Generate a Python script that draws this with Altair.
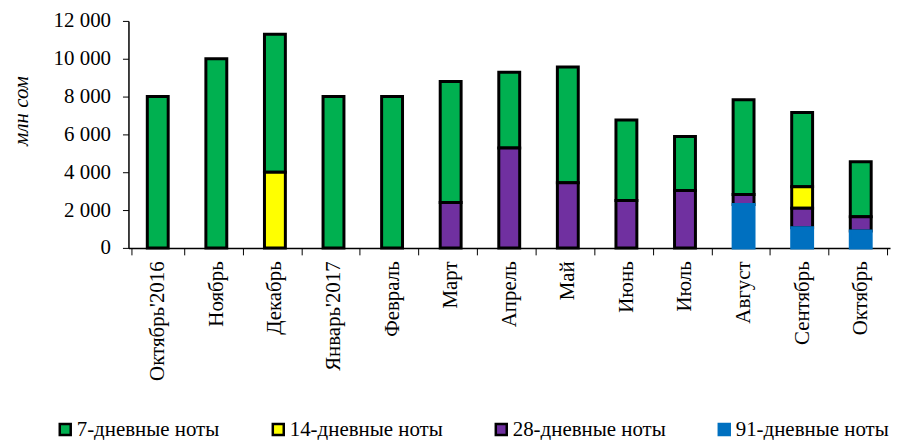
import altair as alt
import pandas as pd

months = ["Октябрь'2016", "Ноябрь", "Декабрь", "Январь'2017", "Февраль", "Март",
          "Апрель", "Май", "Июнь", "Июль", "Август", "Сентябрь", "Октябрь"]
series = ["7-дневные ноты", "14-дневные ноты", "28-дневные ноты", "91-дневные ноты"]
colors = ["#00B050", "#FFFF00", "#7030A0", "#0070C0"]
strokes = ["#000000", "#000000", "#000000", "#0070C0"]

notes7 = [8000, 10000, 7300, 8000, 8000, 6400, 4000, 6120, 4250, 2850, 5010, 3930, 2910]
notes14 = [0, 0, 4000, 0, 0, 0, 0, 0, 0, 0, 0, 1140, 0]
notes28 = [0, 0, 0, 0, 0, 2400, 5280, 3440, 2510, 3040, 520, 1020, 760]
notes91 = [0, 0, 0, 0, 0, 0, 0, 0, 0, 0, 2300, 1070, 890]
stack_order = [3, 2, 1, 0]

FONT = "Liberation Serif"
FS = 21

rows = []
for s, vals, o in zip(series, [notes7, notes14, notes28, notes91], stack_order):
    for m, v in zip(months, vals):
        if v > 0:
            rows.append({"month": m, "series": s, "value": v, "ord": o})
df = pd.DataFrame(rows)

chart = alt.Chart(df).mark_bar(size=21, strokeWidth=3).encode(
    x=alt.X("month:N", sort=months, title=None,
            axis=alt.Axis(labelAngle=-90, labelFont=FONT, labelFontSize=FS, labelPadding=6,
                          tickBand="extent", tickSize=7, tickColor="#000000",
                          domainColor="#000000", domainWidth=1.5, labelColor="#000000")),
    y=alt.Y("value:Q", stack="zero",
            scale=alt.Scale(domain=[0, 12000], nice=False),
            axis=alt.Axis(values=[0, 2000, 4000, 6000, 8000, 10000, 12000],
                          labelExpr="replace(format(datum.value, ',d'), ',', ' ')",
                          labelFont=FONT, labelFontSize=FS, labelPadding=12, tickSize=6,
                          tickColor="#000000", domainColor="#000000", domainWidth=1.5,
                          labelColor="#000000", grid=False,
                          title="млн сом", titleFont=FONT, titleFontStyle="italic",
                          titleFontWeight="normal",
                          titleFontSize=FS, titleX=-107, titleY=90, titleAlign="center",
                          titleBaseline="middle", titleAngle=-90, titleColor="#000000")),
    color=alt.Color("series:N", sort=series,
                    scale=alt.Scale(domain=series, range=colors),
                    legend=alt.Legend(title=None, orient="none", legendX=-74, legendY=400,
                                      direction="horizontal", columns=4, columnPadding=48,
                                      symbolType="square", symbolSize=121,
                                      symbolStrokeWidth=2.5, labelFont=FONT, labelFontSize=FS,
                                      labelOffset=1, labelColor="#000000", labelLimit=300)),
    stroke=alt.Stroke("series:N", sort=series,
                      scale=alt.Scale(domain=series, range=strokes),
                      legend=alt.Legend(title=None)),
    order=alt.Order("ord:Q", sort="ascending"),
).properties(
    width=765, height=228,
    autosize=alt.AutoSizeParams(type="none"),
    padding={"left": 121, "top": 12, "right": 5, "bottom": 192},
).configure(
    font=FONT,
).configure_view(stroke=None)

chart.save("out.html", embed_options={"renderer": "svg", "actions": False})
